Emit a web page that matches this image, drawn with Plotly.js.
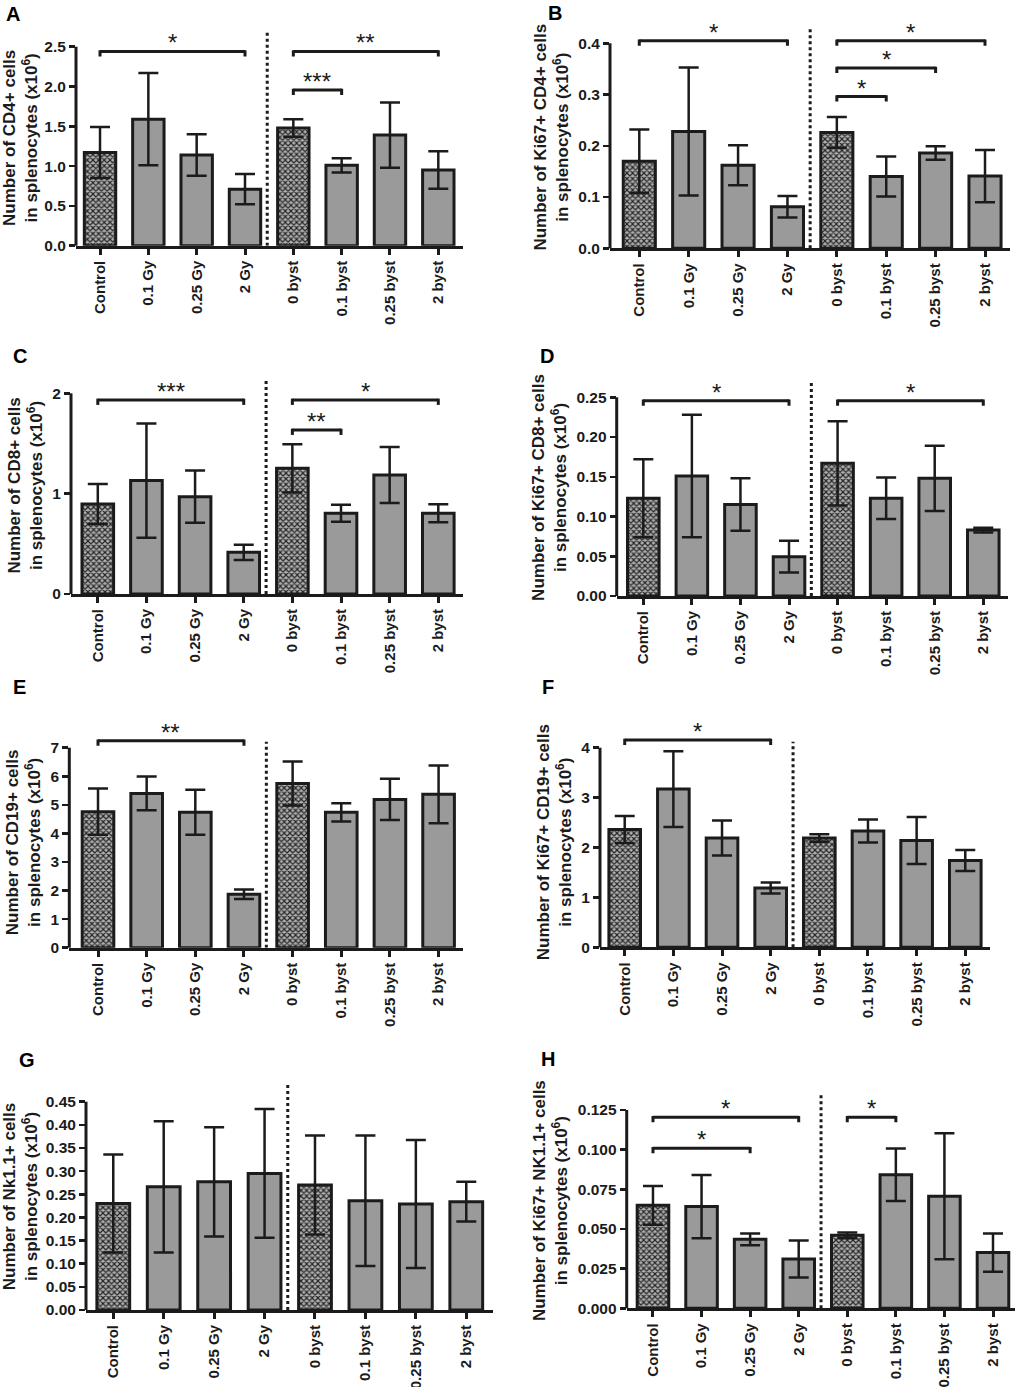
<!DOCTYPE html>
<html><head><meta charset="utf-8">
<script src="https://cdn.plot.ly/plotly-3.0.1.min.js"></script>
<style>html,body{margin:0;padding:0;background:#fff;} #chart{width:1019px;height:1387px;}</style>
</head><body><div id="chart"></div>
<script>
// ---------- data ----------
const categories = ['Control', '0.1 Gy', '0.25 Gy', '2 Gy', '0 byst', '0.1 byst', '0.25 byst', '2 byst'];
const patterned = ['x', '', '', '', 'x', '', '', ''];

const titleA = 'Number of CD4+ cells<br>in splenocytes (x10<sup>6</sup>)';
const meanA = [1.17, 1.59, 1.14, 0.71, 1.48, 1.01, 1.39, 0.95];
const errA = [0.32, 0.58, 0.26, 0.19, 0.11, 0.09, 0.41, 0.235];
const ticksA = ['0.0', '0.5', '1.0', '1.5', '2.0', '2.5'];
const sigA = [[0, 3, 2.44, '*'], [4, 7, 2.44, '**'], [4, 5, 1.956, '***']];

const titleB = 'Number of Ki67+ CD4+ cells<br>in splenocytes (x10<sup>6</sup>)';
const meanB = [0.170, 0.228, 0.162, 0.081, 0.226, 0.140, 0.186, 0.141];
const errB = [0.062, 0.125, 0.039, 0.021, 0.030, 0.039, 0.013, 0.051];
const ticksB = ['0.0', '0.1', '0.2', '0.3', '0.4'];
const sigB = [[0, 3, 0.405, '*'], [4, 7, 0.405, '*'], [4, 6, 0.352, '*'], [4, 5, 0.296, '*']];

const titleC = 'Number of CD8+ cells<br>in splenocytes (x10<sup>6</sup>)';
const meanC = [0.897, 1.130, 0.970, 0.415, 1.252, 0.804, 1.186, 0.804];
const errC = [0.20, 0.57, 0.26, 0.075, 0.24, 0.085, 0.28, 0.09];
const ticksC = ['0', '1', '2'];
const sigC = [[0, 3, 1.934, '***'], [4, 7, 1.934, '*'], [4, 5, 1.635, '**']];

const titleD = 'Number of Ki67+ CD8+ cells<br>in splenocytes (x10<sup>6</sup>)';
const meanD = [0.123, 0.151, 0.115, 0.0495, 0.167, 0.123, 0.148, 0.083];
const errD = [0.049, 0.077, 0.033, 0.020, 0.053, 0.026, 0.041, 0.003];
const ticksD = ['0.00', '0.05', '0.10', '0.15', '0.20', '0.25'];
const sigD = [[0, 3, 0.2457, '*'], [4, 7, 0.2457, '*']];

const titleE = 'Number of CD19+ cells<br>in splenocytes (x10<sup>6</sup>)';
const meanE = [4.76, 5.40, 4.74, 1.87, 5.75, 4.74, 5.19, 5.37];
const errE = [0.81, 0.59, 0.79, 0.165, 0.77, 0.32, 0.72, 1.01];
const ticksE = ['0', '1', '2', '3', '4', '5', '6', '7'];
const sigE = [[0, 3, 7.245, '**']];

const titleF = 'Number of Ki67+ CD19+ cells<br>in splenocytes (x10<sup>6</sup>)';
const meanF = [2.36, 3.17, 2.19, 1.19, 2.19, 2.33, 2.14, 1.74];
const errF = [0.27, 0.76, 0.35, 0.11, 0.075, 0.23, 0.47, 0.21];
const ticksF = ['0', '1', '2', '3', '4'];
const sigF = [[0, 3, 4.154, '*']];

const titleG = 'Number of Nk1.1+ cells<br>in splenocytes (x10<sup>6</sup>)';
const meanG = [0.230, 0.266, 0.277, 0.295, 0.270, 0.236, 0.229, 0.234];
const errG = [0.106, 0.142, 0.118, 0.139, 0.107, 0.141, 0.138, 0.043];
const ticksG = ['0.00', '0.05', '0.10', '0.15', '0.20', '0.25', '0.30', '0.35', '0.40', '0.45'];
const sigG = [];

const titleH = 'Number of Ki67+ NK1.1+ cells<br>in splenocytes (x10<sup>6</sup>)';
const meanH = [0.0649, 0.0641, 0.0435, 0.0311, 0.0460, 0.0842, 0.0706, 0.0351];
const errH = [0.0122, 0.0200, 0.0037, 0.0117, 0.0018, 0.0166, 0.0397, 0.0120];
const ticksH = ['0.000', '0.025', '0.050', '0.075', '0.100', '0.125'];
const sigH = [[0, 3, 0.1204, '*'], [0, 2, 0.1009, '*'], [4, 5, 0.1204, '*']];

// ---------- layout geometry (pixels in the 1019x1387 page) ----------
const W = 1019, H = 1387;
const geom = {
  A: {left: 76, right: 463, y0: 245.7, tickTop: 46.7, top: 30, dotTop: 32, xr: [-0.497, 7.511], lx: 13, ly: 14},
  B: {left: 610, right: 1010, y0: 248.3, tickTop: 43.3, top: 26, dotTop: 28.3, xr: [-0.593, 7.506], lx: 555, ly: 13},
  C: {left: 71, right: 463, y0: 594, tickTop: 393.3, top: 377, dotTop: 379.3, xr: [-0.551, 7.508], lx: 20, ly: 356},
  D: {left: 616.7, right: 1008, y0: 596, tickTop: 397.3, top: 379, dotTop: 381.7, xr: [-0.548, 7.509], lx: 547, ly: 356},
  E: {left: 69.3, right: 463.3, y0: 947.7, tickTop: 747.7, top: 737, dotTop: 741.7, xr: [-0.59, 7.508], lx: 19, ly: 687},
  F: {left: 600, right: 990, y0: 947.3, tickTop: 747.7, top: 737, dotTop: 741.7, xr: [-0.508, 7.508], lx: 548, ly: 687},
  G: {left: 86, right: 492.7, y0: 1310, tickTop: 1101.7, top: 1083, dotTop: 1085, xr: [-0.541, 7.524], lx: 27, ly: 1060},
  H: {left: 626.7, right: 1015, y0: 1308.3, tickTop: 1110, top: 1093, dotTop: 1095, xr: [-0.541, 7.453], lx: 548, ly: 1059}
};

const panels = [
  {id: 'A', title: titleA, mean: meanA, err: errA, ticks: ticksA, sig: sigA},
  {id: 'B', title: titleB, mean: meanB, err: errB, ticks: ticksB, sig: sigB},
  {id: 'C', title: titleC, mean: meanC, err: errC, ticks: ticksC, sig: sigC},
  {id: 'D', title: titleD, mean: meanD, err: errD, ticks: ticksD, sig: sigD},
  {id: 'E', title: titleE, mean: meanE, err: errE, ticks: ticksE, sig: sigE},
  {id: 'F', title: titleF, mean: meanF, err: errF, ticks: ticksF, sig: sigF},
  {id: 'G', title: titleG, mean: meanG, err: errG, ticks: ticksG, sig: sigG},
  {id: 'H', title: titleH, mean: meanH, err: errH, ticks: ticksH, sig: sigH}
];

const INK = '#1b1b1b';
const FONT = 'Arial, "Liberation Sans", Helvetica, sans-serif';
const DIVIDER_X = 3.46;
const HOOK_PX = 5;

const data = [], shapes = [], annotations = [];
const layout = {
  width: W, height: H, margin: {l: 0, r: 0, t: 0, b: 0},
  paper_bgcolor: '#ffffff', plot_bgcolor: 'rgba(0,0,0,0)',
  showlegend: false, hovermode: false,
  font: {family: FONT, color: INK}
};

panels.forEach((p, i) => {
  const n = i === 0 ? '' : String(i + 1);
  const xa = 'x' + n, ya = 'y' + n;
  const g = geom[p.id];
  const tickVals = p.ticks.map(Number);
  const ymax = tickVals[tickVals.length - 1];
  const scale = (g.y0 - g.tickTop) / ymax;          // px per data unit
  const yTopVal = (g.y0 - g.top) / scale;
  const hook = HOOK_PX / scale;

  data.push({
    type: 'bar', x: categories, y: p.mean, xaxis: xa, yaxis: ya,
    width: 0.65,
    marker: {
      color: '#9a9a9a',
      line: {color: INK, width: 3},
      pattern: {shape: patterned, fgcolor: '#262626', bgcolor: '#b0b0b0', size: 4, solidity: 0.5}
    },
    error_y: {type: 'data', array: p.err, visible: true, color: INK, thickness: 2.5, width: 10},
    hoverinfo: 'skip', showlegend: false
  });

  layout['xaxis' + n] = {
    domain: [g.left / W, g.right / W], anchor: ya, type: 'category',
    categoryorder: 'array', categoryarray: categories,
    range: g.xr, showline: true, linewidth: 3, linecolor: INK,
    ticks: 'outside', ticklen: 6, tickwidth: 3, tickcolor: INK,
    tickangle: -90, tickfont: {family: FONT, size: 15, weight: 'bold', color: INK},
    showgrid: false, zeroline: false, fixedrange: true
  };
  layout['yaxis' + n] = {
    domain: [(H - g.y0) / H, (H - g.top) / H], anchor: xa,
    range: [0, yTopVal], tickmode: 'array', tickvals: tickVals, ticktext: p.ticks,
    ticks: 'outside', ticklen: 6, tickwidth: 2.5, tickcolor: INK,
    showline: false, showgrid: false, zeroline: false, fixedrange: true,
    tickfont: {family: FONT, size: 15.5, weight: 'bold', color: INK},
    title: {text: p.title, font: {family: FONT, size: 17, weight: 'bold', color: INK}, standoff: 5}
  };

  // y axis line ending at the top tick
  shapes.push({type: 'line', xref: xa + ' domain', yref: ya + ' domain',
    x0: 0, x1: 0, y0: 0, y1: (g.y0 - g.tickTop) / (g.y0 - g.top),
    line: {color: INK, width: 3}});
  // dotted divider between irradiated and bystander groups
  shapes.push({type: 'line', xref: xa, yref: ya,
    x0: DIVIDER_X, x1: DIVIDER_X, y0: 0, y1: (g.y0 - g.dotTop) / scale,
    line: {color: INK, width: 3, dash: 'dot'}});
  // significance brackets
  p.sig.forEach(s => {
    const [a, b, yv, txt] = s;
    const ln = {color: INK, width: 3};
    shapes.push({type: 'line', xref: xa, yref: ya, x0: a, x1: b, y0: yv, y1: yv, line: ln});
    shapes.push({type: 'line', xref: xa, yref: ya, x0: a, x1: a, y0: yv + hook * 0.25, y1: yv - hook, line: ln});
    shapes.push({type: 'line', xref: xa, yref: ya, x0: b, x1: b, y0: yv + hook * 0.25, y1: yv - hook, line: ln});
    annotations.push({xref: xa, yref: ya, x: (a + b) / 2, y: yv, text: txt, showarrow: false,
      xanchor: 'center', yanchor: 'bottom', yshift: -7,
      font: {family: FONT, size: 24, color: INK}});
  });
  // panel letter
  annotations.push({xref: 'paper', yref: 'paper', x: g.lx / W, y: 1 - g.ly / H,
    xanchor: 'center', yanchor: 'middle', text: p.id, showarrow: false,
    font: {family: FONT, size: 20, weight: 'bold', color: '#000'}});
});

layout.shapes = shapes;
layout.annotations = annotations;

Plotly.newPlot('chart', data, layout, {staticPlot: true, displayModeBar: false});
</script>
</body></html>
